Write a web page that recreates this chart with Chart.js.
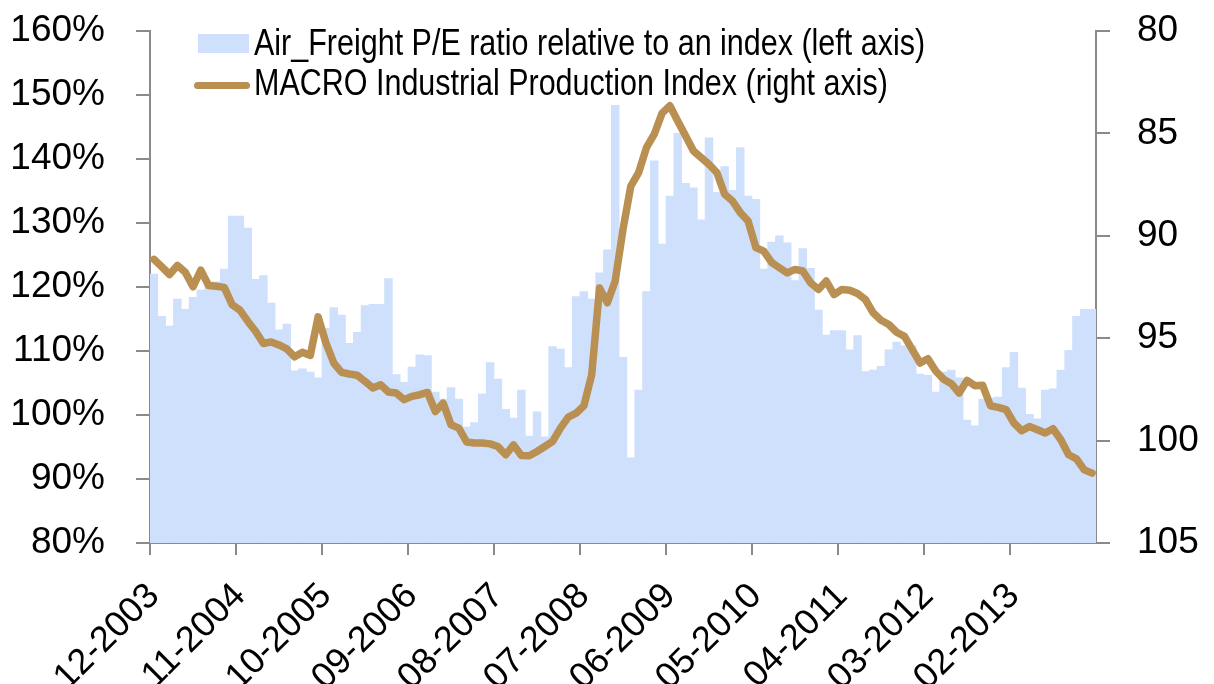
<!DOCTYPE html>
<html>
<head>
<meta charset="utf-8">
<script src="https://cdn.jsdelivr.net/npm/chart.js@4.4.1/dist/chart.umd.min.js"></script>
<style>
  html, body { margin: 0; padding: 0; background: #fff; }
  #wrap { position: relative; width: 1214px; height: 684px; }
  #legend { position: absolute; left: 0; top: 0; font-family: 'Liberation Sans', Arial, sans-serif; color: #000; }
  .swatch { position: absolute; }
  .txt { position: absolute; left: 254px; font-size: 36px; line-height: 36px; white-space: nowrap;
         transform: scaleX(0.847); transform-origin: left center; }
</style>
</head>
<body>
<div id="wrap">
  <canvas id="myChart" width="1214" height="684"></canvas>
  <div id="legend"></div>
</div>
<script>
// months: 12-2003 .. 12-2013
const startYear = 2003
const startMonth = 12
const monthCount = 121
const labelEvery = 11

// Air_Freight P/E ratio relative to an index, % (left axis)
const peRelative = [
  122.0, 115.4, 113.9, 118.1, 116.5, 118.4, 119.5, 120.3, 120.8, 122.8,
  131.1, 131.1, 129.2, 121.2, 121.8, 117.5, 113.3, 114.2, 106.9, 107.2,
  106.7, 105.8, 113.6, 116.8, 115.6, 111.2, 112.9, 117.1, 117.3, 117.3,
  121.3, 106.3, 105.1, 107.5, 109.4, 109.3, 103.6, 102.5, 104.3, 102.5,
  98.1, 98.8, 103.3, 108.2, 105.6, 100.9, 99.5, 103.9, 96.7, 100.5,
  96.6, 110.7, 110.3, 107.4, 118.5, 119.3, 118.1, 122.2, 125.8, 148.4,
  109.0, 93.3, 103.9, 119.3, 139.7, 126.7, 134.2, 144.0, 136.2, 135.5,
  130.5, 143.3, 134.8, 138.8, 135.1, 141.8, 134.2, 133.7, 122.8, 127.0,
  128.0, 126.9, 121.0, 126.0, 122.9, 116.4, 112.5, 113.2, 113.2, 110.2,
  112.4, 106.8, 107.0, 107.6, 110.2, 111.4, 110.8, 110.8, 106.4, 106.2,
  103.6, 106.7, 107.0, 105.8, 99.2, 98.3, 102.5, 102.7, 102.8, 107.4,
  109.8, 104.2, 100.1, 99.4, 103.9, 104.1, 107.0, 110.1, 115.4, 116.5,
  116.5
]

// MACRO Industrial Production Index (right axis, inverted)
const industrialProduction = [
  91.15, 91.51, 91.89, 91.45, 91.77, 92.49, 91.68, 92.43, 92.46, 92.52,
  93.36, 93.63, 94.17, 94.66, 95.26, 95.18, 95.33, 95.52, 95.91, 95.69,
  95.84, 93.96, 95.23, 96.21, 96.67, 96.75, 96.81, 97.11, 97.43, 97.27,
  97.63, 97.68, 98.00, 97.84, 97.76, 97.65, 98.58, 98.17, 99.23, 99.39,
  100.07, 100.12, 100.12, 100.16, 100.29, 100.69, 100.21, 100.73, 100.74, 100.53,
  100.29, 100.04, 99.39, 98.85, 98.66, 98.30, 96.78, 92.55, 93.27, 92.21,
  89.69, 87.57, 86.91, 85.69, 85.04, 84.01, 83.65, 84.39, 85.12, 85.85,
  86.18, 86.51, 86.91, 87.97, 88.30, 88.87, 89.28, 90.58, 90.75, 91.30,
  91.56, 91.81, 91.64, 91.72, 92.30, 92.62, 92.21, 92.87, 92.62, 92.66,
  92.82, 93.11, 93.76, 94.12, 94.33, 94.71, 94.91, 95.56, 96.21, 96.00,
  96.60, 97.00, 97.22, 97.68, 97.06, 97.32, 97.30, 98.30, 98.38, 98.49,
  99.14, 99.52, 99.31, 99.47, 99.63, 99.42, 99.96, 100.69, 100.89, 101.43,
  101.59
]

const leftTicks = { min: 80, max: 160, step: 10 }
const rightTicks = { min: 80, max: 105, step: 5 }

const seriesNames = [
  'Air_Freight P/E ratio relative to an index (left axis)',
  'MACRO Industrial Production Index (right axis)'
]

const barColor = 'rgb(206,224,252)'
const lineColor = 'rgb(185,143,82)'
const axisColor = '#8a8a8a'

const labels = []
for (let i = 0; i < monthCount; i++) {
  const m = (startMonth - 1 + i) % 12 + 1
  const y = startYear + Math.floor((startMonth - 1 + i) / 12)
  labels.push(String(m).padStart(2, '0') + '-' + y)
}

Chart.defaults.font.family = "'Liberation Sans', Arial, sans-serif"
Chart.defaults.color = '#000'

// keep the plot box fixed: axis sizes set by hand, no extra label padding
const fixSize = (w, h) => s => {
  if (w) s.width = w
  if (h) s.height = h
  s.paddingTop = 0
  s.paddingBottom = 0
  s.paddingLeft = 0
  s.paddingRight = 0
}

const ctx = document.getElementById('myChart').getContext('2d')

new Chart(ctx, {
  type: 'bar',
  data: {
    labels: labels,
    datasets: [
      {
        type: 'line',
        label: seriesNames[1],
        data: industrialProduction,
        yAxisID: 'yRight',
        borderColor: lineColor,
        backgroundColor: lineColor,
        borderWidth: 7.5,
        borderJoinStyle: 'round',
        borderCapStyle: 'round',
        pointRadius: 0,
        tension: 0,
        order: 0
      },
      {
        type: 'bar',
        label: seriesNames[0],
        data: peRelative,
        yAxisID: 'yLeft',
        backgroundColor: barColor,
        borderWidth: 0,
        barPercentage: 1,
        categoryPercentage: 1,
        order: 1
      }
    ]
  },
  options: {
    responsive: false,
    animation: false,
    devicePixelRatio: 1,
    layout: { padding: { top: 31, left: 0, right: 0, bottom: 0 } },
    plugins: {
      legend: { display: false },
      tooltip: { enabled: false }
    },
    scales: {
      x: {
        offset: true,
        grid: {
          drawOnChartArea: false,
          offset: true,
          tickLength: 12,
          lineWidth: 2,
          color: c => (c.index % labelEvery === 0 ? axisColor : 'rgba(0,0,0,0)')
        },
        border: { color: axisColor, width: 2 },
        ticks: {
          autoSkip: false,
          minRotation: 45,
          maxRotation: 45,
          padding: 20,
          font: { size: 36 },
          callback: function (val, i) {
            return i % labelEvery === 0 ? this.getLabelForValue(val) : ''
          }
        },
        afterFit: fixSize(0, 141)
      },
      yLeft: {
        position: 'left',
        min: leftTicks.min,
        max: leftTicks.max,
        grid: { drawOnChartArea: false, tickLength: 14, lineWidth: 2, color: axisColor },
        border: { color: axisColor, width: 2 },
        ticks: {
          stepSize: leftTicks.step,
          padding: 31,
          font: { size: 37 },
          callback: v => v + '%'
        },
        afterFit: fixSize(150, 0)
      },
      yRight: {
        position: 'right',
        reverse: true,
        min: rightTicks.min,
        max: rightTicks.max,
        grid: { drawOnChartArea: false, tickLength: 14, lineWidth: 2, color: axisColor },
        border: { color: axisColor, width: 2 },
        ticks: {
          stepSize: rightTicks.step,
          padding: 27,
          font: { size: 37 }
        },
        afterFit: fixSize(118, 0)
      }
    }
  }
})

// legend drawn over the plot area, top-left
const legend = document.getElementById('legend')
legend.innerHTML =
  '<div class="swatch" style="left:198px;top:34px;width:51px;height:19px;background:' + barColor + '"></div>' +
  '<div class="txt" style="top:25px">' + seriesNames[0] + '</div>' +
  '<div class="swatch" style="left:194px;top:82px;width:56px;height:7px;border-radius:4px;background:' + lineColor + '"></div>' +
  '<div class="txt" style="top:65px">' + seriesNames[1] + '</div>'
</script>
</body>
</html>
